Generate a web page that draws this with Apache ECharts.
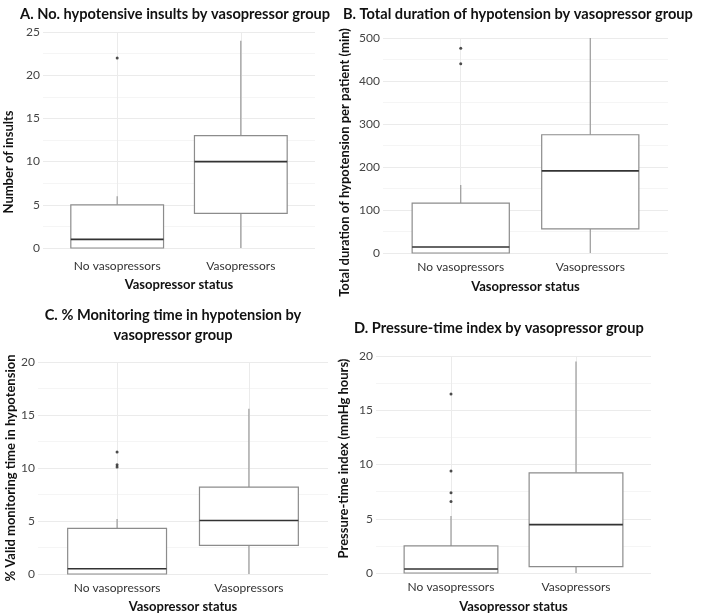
<!DOCTYPE html>
<html>
<head>
<meta charset="utf-8">
<script src="https://cdn.jsdelivr.net/npm/echarts@6/dist/echarts.min.js"></script>
<style>
  html, body { margin: 0; padding: 0; background: #fff; }
  #main { width: 702px; height: 616px; }
</style>
</head>
<body>
<div id="main"></div>
<script>
// x positions of the two groups (ggplot style discrete scale: 1 and 2)
const groups = ['No vasopressors', 'Vasopressors']
const groupPos = [1, 2]

// box rows: [x, lower whisker, Q1, median, Q3, upper whisker]
const insultsBox = [[1, 0, 0, 1, 5, 6], [2, 0, 4, 10, 13, 24]]
const insultsOutliers = [[1, 22]]
const insultsTicks = [0, 5, 10, 15, 20, 25]

const durationBox = [[1, 0, 0, 14, 116, 158], [2, 0, 56, 191, 275, 500]]
const durationOutliers = [[1, 440], [1, 476]]
const durationTicks = [0, 100, 200, 300, 400, 500]

const monitorBox = [[1, 0, 0, 0.5, 4.3, 5.2], [2, 0, 2.7, 5.05, 8.2, 15.6]]
const monitorOutliers = [[1, 11.5], [1, 10.3], [1, 10.1]]
const monitorTicks = [0, 5, 10, 15, 20]

const pressureBox = [[1, 0, 0, 0.37, 2.5, 5.25], [2, 0, 0.58, 4.46, 9.23, 19.5]]
const pressureOutliers = [[1, 16.5], [1, 9.4], [1, 7.4], [1, 6.6]]
const pressureTicks = [0, 5, 10, 15, 20]

const FONT = 'Lato'
const HALF = 0.375 // half box width in x units

const chart = echarts.init(document.getElementById('main'), null, { renderer: 'canvas' })

function renderBox(params, api) {
  const x = api.value(0)
  const lo = api.coord([x, api.value(1)])
  const q1 = api.coord([x, api.value(2)])
  const q3 = api.coord([x, api.value(4)])
  const hi = api.coord([x, api.value(5)])
  const bl = api.coord([x - HALF, api.value(2)])
  const tr = api.coord([x + HALF, api.value(4)])
  const mL = api.coord([x - HALF, api.value(3)])
  const mR = api.coord([x + HALF, api.value(3)])
  const whisker = { stroke: '#9a9a9a', lineWidth: 1.2 }
  return {
    type: 'group',
    children: [
      { type: 'line', shape: { x1: lo[0], y1: lo[1], x2: q1[0], y2: q1[1] }, style: whisker },
      { type: 'line', shape: { x1: q3[0], y1: q3[1], x2: hi[0], y2: hi[1] }, style: whisker },
      {
        type: 'rect',
        shape: { x: bl[0], y: tr[1], width: tr[0] - bl[0], height: bl[1] - tr[1] },
        style: { fill: '#fff', stroke: '#8c8c8c', lineWidth: 1.2 }
      },
      { type: 'line', shape: { x1: mL[0], y1: mL[1], x2: mR[0], y2: mR[1] }, style: { stroke: '#333', lineWidth: 1.6 } }
    ]
  }
}

// panel layout; namePad moves the rotated y title along the axis
const panels = [
  { grid: { left: 43, top: 32, width: 272, height: 216 }, box: insultsBox, out: insultsOutliers, ticks: insultsTicks,
    yName: 'Number of insults', yGap: 28, namePad: [0, 44, 0, 0], xGap: 30, labelMargin: 12 },
  { grid: { left: 383, top: 38, width: 285, height: 215 }, box: durationBox, out: durationOutliers, ticks: durationTicks,
    yName: 'Total duration of hypotension per patient (min)', yGap: 32, namePad: [0, 34, 0, 0], xGap: 27, labelMargin: 8 },
  { grid: { left: 38, top: 362, width: 290, height: 212 }, box: monitorBox, out: monitorOutliers, ticks: monitorTicks,
    yName: '% Valid monitoring time in hypotension', yGap: 20, namePad: [0, 0, 0, 0], xGap: 26, labelMargin: 8 },
  { grid: { left: 376, top: 356, width: 275, height: 217 }, box: pressureBox, out: pressureOutliers, ticks: pressureTicks,
    yName: 'Pressure-time index (mmHg hours)', yGap: 26, namePad: [0, 0, 0, 12], xGap: 27, labelMargin: 8 }
]

const titleStyle = { fontFamily: FONT, fontSize: 14.6, fontWeight: 'bold', color: '#111', lineHeight: 20 }

const option = {
  backgroundColor: '#fff',
  animation: false,
  title: [
    { text: 'A. No. hypotensive insults by vasopressor group', left: 20, top: 4, padding: 0, textStyle: titleStyle },
    { text: 'B. Total duration of hypotension by vasopressor group', left: 343, top: 4, padding: 0, textStyle: titleStyle },
    { text: 'C. % Monitoring time in hypotension by\nvasopressor group', left: 173, textAlign: 'center', top: 305, padding: 0, textStyle: titleStyle },
    { text: 'D. Pressure-time index by vasopressor group', left: 354, top: 318, padding: 0, textStyle: titleStyle }
  ],
  grid: panels.map(p => p.grid),
  xAxis: panels.map((p, i) => ({
    type: 'value',
    gridIndex: i,
    min: 0.4,
    max: 2.6,
    interval: 0.2,
    name: 'Vasopressor status',
    nameLocation: 'middle',
    nameGap: p.xGap,
    nameTextStyle: { fontFamily: FONT, fontSize: 13, fontWeight: 'bold', color: '#111' },
    axisLine: { show: false },
    axisTick: { show: false },
    splitLine: { show: false },
    axisLabel: {
      margin: p.labelMargin,
      fontFamily: FONT,
      fontSize: 12,
      color: '#333',
      formatter: v => {
        const k = groupPos.findIndex(g => Math.abs(g - v) < 1e-6)
        return k >= 0 ? groups[k] : ''
      }
    }
  })),
  yAxis: panels.map((p, i) => ({
    type: 'value',
    gridIndex: i,
    min: p.ticks[0],
    max: p.ticks[p.ticks.length - 1],
    interval: p.ticks[1] - p.ticks[0],
    name: p.yName,
    nameLocation: 'middle',
    nameRotate: 90,
    nameGap: p.yGap,
    nameTextStyle: { fontFamily: FONT, fontSize: 13, fontWeight: 'bold', color: '#111', padding: p.namePad },
    axisLine: { show: false },
    axisTick: { show: false },
    axisLabel: { margin: 3, fontFamily: FONT, fontSize: 12, color: '#444' },
    splitLine: { lineStyle: { color: '#ebebeb', width: 1 } },
    minorTick: { show: false, splitNumber: 2 },
    minorSplitLine: { show: true, lineStyle: { color: '#f5f5f5', width: 1 } }
  })),
  series: panels.flatMap((p, i) => [
    {
      type: 'custom',
      xAxisIndex: i,
      yAxisIndex: i,
      z: 3,
      clip: false,
      encode: { x: 0, y: [1, 2, 3, 4, 5] },
      renderItem: renderBox,
      data: p.box,
      markLine: {
        silent: true,
        symbol: 'none',
        z: 1,
        label: { show: false },
        lineStyle: { color: '#ebebeb', type: 'solid', width: 1 },
        data: groupPos.map(g => ({ xAxis: g }))
      }
    },
    {
      type: 'scatter',
      xAxisIndex: i,
      yAxisIndex: i,
      z: 4,
      symbolSize: 3,
      itemStyle: { color: '#222' },
      data: p.out
    }
  ])
}

chart.setOption(option)
</script>
</body>
</html>
